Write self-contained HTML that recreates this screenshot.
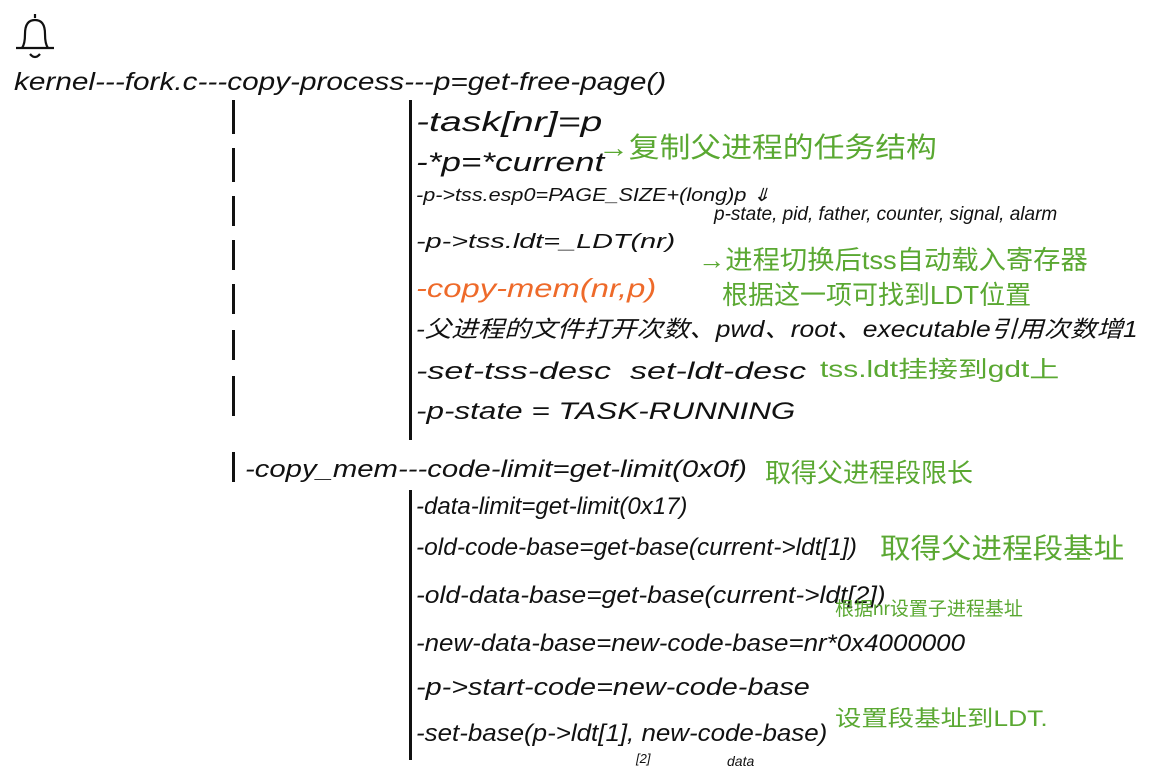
<!DOCTYPE html>
<html><head><meta charset="utf-8"><style>
html,body{margin:0;padding:0;background:#fff;}
body{width:1152px;height:781px;position:relative;overflow:hidden;font-family:"Liberation Sans","Noto Sans CJK SC",sans-serif;font-style:italic;color:#111;}
.t{position:absolute;white-space:nowrap;font-size:24px;line-height:1;transform-origin:0 0;}
.g{color:#5aa832;font-style:normal;}
.o{color:#ee6a2a;}
.bar{position:absolute;width:3px;background:#111;}
</style></head><body>
<svg style="position:absolute;left:12px;top:10px" width="46" height="52" viewBox="0 0 46 52">
<path d="M23 4 v4 M10 38 q3-4 3-14 q0-14 10-14 q10 0 10 14 q0 10 3 14 z M4 38 h38 M18 44 q5 6 10 0" stroke="#111" stroke-width="2.2" fill="none"/>
</svg>
<div class="t" style="left:14px;top:70px;font-size:25px;transform:scaleX(1.19)">kernel---fork.c---copy-process---p=get-free-page()</div>

<div class="bar" style="left:232px;top:100px;height:34px"></div>
<div class="bar" style="left:232px;top:148px;height:34px"></div>
<div class="bar" style="left:232px;top:196px;height:30px"></div>
<div class="bar" style="left:232px;top:240px;height:30px"></div>
<div class="bar" style="left:232px;top:284px;height:30px"></div>
<div class="bar" style="left:232px;top:330px;height:30px"></div>
<div class="bar" style="left:232px;top:376px;height:40px"></div>
<div class="bar" style="left:232px;top:452px;height:30px"></div>

<div class="bar" style="left:409px;top:100px;height:340px"></div>
<div class="bar" style="left:409px;top:490px;height:270px"></div>

<div class="t" style="left:416px;top:108px;font-size:28px;transform:scaleX(1.4)">-task[nr]=p</div>
<div class="t" style="left:416px;top:149px;font-size:27px;transform:scaleX(1.3)">-*p=*current</div>
<div class="t g" style="left:598px;top:134px;font-size:28px;transform:scaleX(1.1)">→复制父进程的任务结构</div>
<div class="t" style="left:416px;top:186px;font-size:18px;transform:scaleX(1.2)">-p-&gt;tss.esp0=PAGE_SIZE+(long)p ⇓</div>
<div class="t" style="left:714px;top:205px;font-size:19px">p-state, pid, father, counter, signal, alarm</div>
<div class="t" style="left:416px;top:232px;font-size:20px;transform:scaleX(1.44)">-p-&gt;tss.ldt=_LDT(nr)</div>
<div class="t g" style="left:698px;top:247px;font-size:26px;transform:scaleX(1.05)">→进程切换后tss自动载入寄存器</div>
<div class="t g" style="left:722px;top:282px;font-size:26px">根据这一项可找到LDT位置</div>
<div class="t o" style="left:416px;top:275px;font-size:26px;transform:scaleX(1.26)">-copy-mem(nr,p)</div>
<div class="t" style="left:416px;top:318px;font-size:23px;transform:scaleX(1.15)">-父进程的文件打开次数、pwd、root、executable引用次数增1</div>
<div class="t" style="left:416px;top:360px;font-size:24px;transform:scaleX(1.42)">-set-tss-desc &nbsp;set-ldt-desc</div>
<div class="t g" style="left:820px;top:358px;font-size:23px;transform:scaleX(1.3)">tss.ldt挂接到gdt上</div>
<div class="t" style="left:416px;top:400px;font-size:24px;transform:scaleX(1.31)">-p-state = TASK-RUNNING</div>

<div class="t" style="left:245px;top:458px;font-size:24px;transform:scaleX(1.22)">-copy_mem---code-limit=get-limit(0x0f)</div>
<div class="t g" style="left:765px;top:460px;font-size:26px">取得父进程段限长</div>
<div class="t" style="left:416px;top:495px;font-size:24px;transform:scaleX(1.0)">-data-limit=get-limit(0x17)</div>
<div class="t" style="left:416px;top:536px;font-size:24px;transform:scaleX(1.02)">-old-code-base=get-base(current-&gt;ldt[1])</div>
<div class="t g" style="left:880px;top:535px;font-size:28px;transform:scaleX(1.09)">取得父进程段基址</div>
<div class="t" style="left:416px;top:584px;font-size:24px;transform:scaleX(1.1)">-old-data-base=get-base(current-&gt;ldt[2])</div>
<div class="t g" style="left:835px;top:600px;font-size:19px">根据nr设置子进程基址</div>
<div class="t" style="left:416px;top:632px;font-size:24px;transform:scaleX(1.08)">-new-data-base=new-code-base=nr*0x4000000</div>
<div class="t" style="left:416px;top:676px;font-size:24px;transform:scaleX(1.2)">-p-&gt;start-code=new-code-base</div>
<div class="t" style="left:416px;top:722px;font-size:24px;transform:scaleX(1.08)">-set-base(p-&gt;ldt[1], new-code-base)</div>
<div class="t g" style="left:835px;top:708px;font-size:22px;transform:scaleX(1.2)">设置段基址到LDT.</div>
<div class="t" style="left:636px;top:752px;font-size:13px">[2]</div>
<div class="t" style="left:727px;top:754px;font-size:14px">data</div>
</body></html>
